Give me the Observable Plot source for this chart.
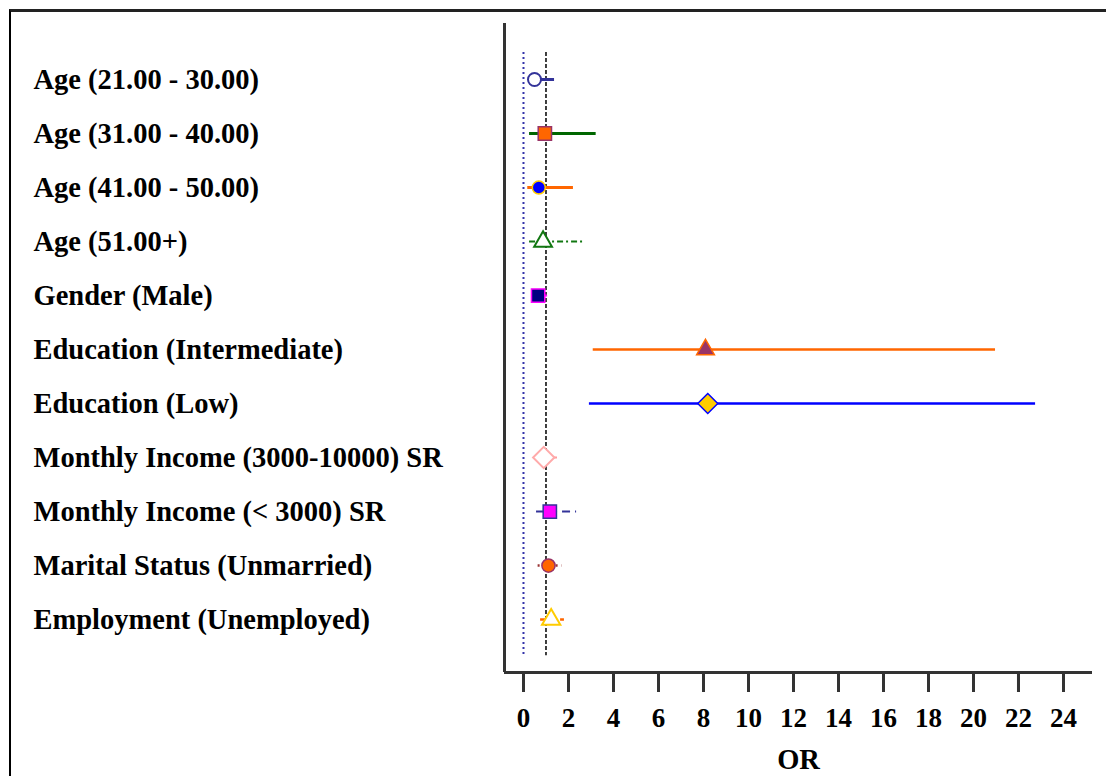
<!DOCTYPE html>
<html>
<head>
<meta charset="utf-8">
<script src="https://cdn.jsdelivr.net/npm/d3@7"></script>
<script src="https://cdn.jsdelivr.net/npm/@observablehq/plot@0.6"></script>
<style>
  html, body { margin: 0; padding: 0; background: white; overflow: hidden; }
  #wrap { position: relative; width: 1106px; height: 776px; overflow: hidden; }
  #box { position: absolute; left: 9px; top: 9px; width: 1300px; height: 900px;
         border-left: 2px solid #000; border-top: 3px solid #222; box-sizing: border-box; }
  #chart { position: absolute; left: 0; top: 0; }
</style>
</head>
<body>
<div id="wrap"><div id="box"></div><div id="chart"></div></div>
<script>
const labels = [
  "Age (21.00 - 30.00)",
  "Age (31.00 - 40.00)",
  "Age (41.00 - 50.00)",
  "Age (51.00+)",
  "Gender (Male)",
  "Education (Intermediate)",
  "Education (Low)",
  "Monthly Income (3000-10000) SR",
  "Monthly Income (< 3000) SR",
  "Marital Status (Unmarried)",
  "Employment (Unemployed)"
];
const oddsRatio = [0.49, 0.95, 0.68, 0.87, 0.65, 8.09, 8.19, 0.90, 1.17, 1.11, 1.23];
const ciLower   = [0.30, 0.27, 0.19, 0.27, 0.50, 3.10, 2.93, 0.60, 0.58, 0.65, 0.76];
const ciUpper   = [1.38, 3.23, 2.22, 2.71, 1.07, 20.98, 22.76, 1.51, 2.36, 1.73, 1.82];
const xTicks = [0, 2, 4, 6, 8, 10, 12, 14, 16, 18, 20, 22, 24];
const refValues = [0, 1];

// styles (separate from data)
const lineStyles = [
  {stroke: "#333399", w: 3, dash: null},
  {stroke: "#006600", w: 3, dash: null},
  {stroke: "#ff6600", w: 3, dash: null},
  {stroke: "#117711", w: 2, dash: "6,3,2,3"},
  {stroke: "#ff00ff", w: 2, dash: null},
  {stroke: "#ff6600", w: 2.5, dash: null},
  {stroke: "#0000ff", w: 2.5, dash: null},
  {stroke: "#ff9999", w: 2, dash: "5,3"},
  {stroke: "#333399", w: 2, dash: "8,5"},
  {stroke: "#993333", w: 2.5, dash: "2,4"},
  {stroke: "#ff6600", w: 2.5, dash: "6,4"}
];
const markerStyles = [
  {symbol: "circle",   fill: "white",   stroke: "#333399", r: 6.5, sw: 2},
  {symbol: "square",   fill: "#ff6600", stroke: "#993366", r: 7.5, sw: 1.5},
  {symbol: "circle",   fill: "#0000ff", stroke: "#ffcc00", r: 6.5, sw: 1.5},
  {symbol: "triangle", fill: "white",   stroke: "#117711", r: 6.6, sw: 2},
  {symbol: "square",   fill: "#000080", stroke: "#ff00ff", r: 7.5, sw: 1.5},
  {symbol: "triangle", fill: "#993366", stroke: "#ff6600", r: 6.6, sw: 1.5},
  {symbol: "diamond2", fill: "#ffcc00", stroke: "#0000ff", r: 9,   sw: 1.5},
  {symbol: "diamond2", fill: "white",   stroke: "#ffaaaa", r: 9.6, sw: 2},
  {symbol: "square",   fill: "#ff00ff", stroke: "#333399", r: 7.5, sw: 1.5},
  {symbol: "circle",   fill: "#ff6600", stroke: "#993366", r: 6.6, sw: 1.5},
  {symbol: "triangle", fill: "white",   stroke: "#ffcc00", r: 6.8, sw: 2}
];

const rows = labels.map((label, i) => ({i, label, or: oddsRatio[i], lo: ciLower[i], hi: ciUpper[i]}));

const xDomain = [-0.844, 25.29];
const yDomain = [-1.037, 10.98];
const refSpan = [-0.5, 10.67];
const font = "'Liberation Serif', 'Times New Roman', serif";

const marks = [];
// reference lines
marks.push(Plot.ruleX([refValues[0]], {y1: refSpan[0], y2: refSpan[1], stroke: "#3333aa", strokeWidth: 2, strokeDasharray: "2,3"}));
marks.push(Plot.ruleX([refValues[1]], {y1: refSpan[0], y2: refSpan[1], stroke: "#000", strokeWidth: 1.5, strokeDasharray: "4,2"}));
// CI lines
rows.forEach((d, k) => {
  const s = lineStyles[k];
  marks.push(Plot.ruleY([d], {y: "i", x1: "lo", x2: "hi", stroke: s.stroke, strokeWidth: s.w, strokeDasharray: s.dash || undefined}));
});
// markers
rows.forEach((d, k) => {
  const m = markerStyles[k];
  marks.push(Plot.dot([d], {x: "or", y: "i", symbol: m.symbol, r: m.r, fill: m.fill, stroke: m.stroke, strokeWidth: m.sw}));
});
// axis lines
marks.push(Plot.ruleX([xDomain[0]], {stroke: "#333", strokeWidth: 3}));
marks.push(Plot.ruleY([yDomain[1]], {stroke: "#333", strokeWidth: 3}));
// x axis
marks.push(Plot.axisX({ticks: xTicks, tickSize: 20, tickPadding: 15, strokeWidth: 3, stroke: "#333",
  fontSize: 27, fontWeight: "bold", fill: "black", tickFormat: d => String(d),
  label: "OR", labelAnchor: "center", labelArrow: "none", labelOffset: 96}));
// y labels
marks.push(Plot.text(rows, {y: "i", text: "label", frameAnchor: "left", dx: -471, textAnchor: "start",
  fontSize: 28.5, fontWeight: "bold", fill: "black"}));

const chart = Plot.plot({
  width: 1106,
  height: 776,
  marginLeft: 504,
  marginRight: 14,
  marginTop: 23,
  marginBottom: 104,
  style: {fontFamily: font, fontWeight: "bold", color: "black", background: "transparent", overflow: "visible"},
  x: {domain: xDomain},
  y: {domain: yDomain, reverse: true, axis: null},
  marks
});
document.getElementById("chart").appendChild(chart);
// style axis label
d3.select(chart).selectAll("[aria-label='x-axis label'] text, [aria-label='x-axis label']")
  .attr("font-size", 28.5).attr("font-weight", "bold");
</script>
</body>
</html>
